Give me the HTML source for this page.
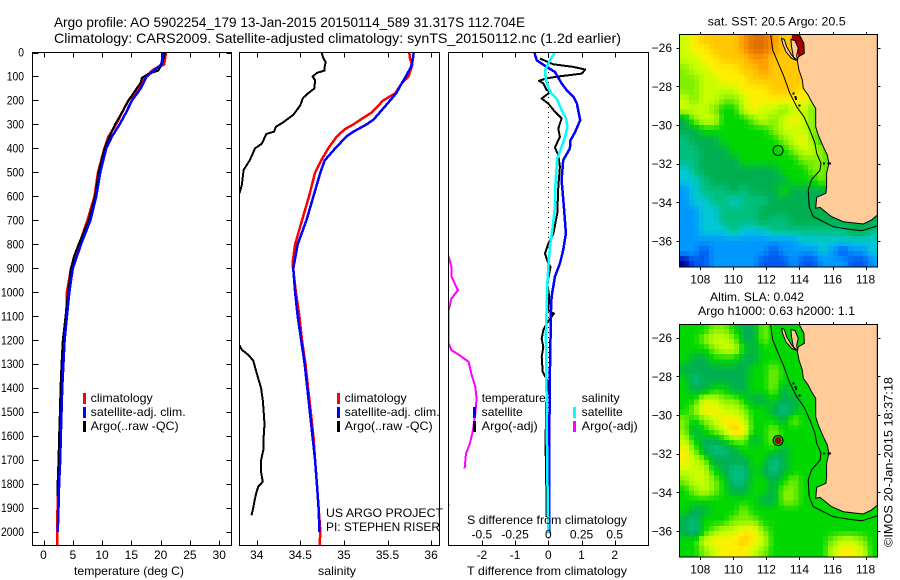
<!DOCTYPE html>
<html>
<head>
<meta charset="utf-8">
<title>Argo profile 5902254_179</title>
<style>
html,body{margin:0;padding:0;background:#fff;}
svg{display:block;font-family:"Liberation Sans",sans-serif;fill:#000;}
svg text{font-size:12px;}
.title{font-size:14px;}
</style>
</head>
<body>
<svg id="chart" xmlns="http://www.w3.org/2000/svg" width="900" height="580" viewBox="0 0 900 580">
<defs>
<clipPath id="clip-t"><rect x="32.5" y="52.5" width="199" height="493"/></clipPath>
<clipPath id="clip-s"><rect x="239.5" y="52.5" width="200" height="493"/></clipPath>
<clipPath id="clip-d"><rect x="448.5" y="52.5" width="200" height="493"/></clipPath>
<clipPath id="clip-m1"><rect x="679.5" y="34.5" width="198" height="232.5"/></clipPath>
<clipPath id="clip-m2"><rect x="679.5" y="324.5" width="198" height="232.5"/></clipPath>
</defs>
<text class="title" x="54" y="27" textLength="471" lengthAdjust="spacingAndGlyphs">Argo profile: AO 5902254_179 13-Jan-2015 20150114_589 31.317S 112.704E</text>
<text class="title" x="54" y="43" textLength="567" lengthAdjust="spacingAndGlyphs">Climatology: CARS2009. Satellite-adjusted climatology: synTS_20150112.nc (1.2d earlier)</text>
<g id="panel-t"></g>
<g id="panel-s"></g>
<g id="panel-d"></g>
<g id="map-1"></g>
<g id="map-2"></g>

<g>
<rect x="83" y="393" width="3" height="11" fill="#f00"/>
<text x="90.7" y="402" textLength="62" lengthAdjust="spacingAndGlyphs">climatology</text>
<rect x="83" y="407" width="3" height="11" fill="#00f"/>
<text x="90.7" y="416" textLength="95" lengthAdjust="spacingAndGlyphs">satellite-adj. clim.</text>
<rect x="83" y="421" width="3" height="11" fill="#000"/>
<text x="90.7" y="430" textLength="88" lengthAdjust="spacingAndGlyphs">Argo(..raw -QC)</text>
</g>
<g>
<rect x="337" y="393" width="3" height="11" fill="#f00"/>
<text x="344.7" y="402" textLength="62" lengthAdjust="spacingAndGlyphs">climatology</text>
<rect x="337" y="407" width="3" height="11" fill="#00f"/>
<text x="344.7" y="416" textLength="95" lengthAdjust="spacingAndGlyphs">satellite-adj. clim.</text>
<rect x="337" y="421" width="3" height="11" fill="#000"/>
<text x="344.7" y="430" textLength="88" lengthAdjust="spacingAndGlyphs">Argo(..raw -QC)</text>
</g>
<text x="326" y="517" textLength="117" lengthAdjust="spacingAndGlyphs">US ARGO PROJECT</text>
<text x="326" y="531" textLength="114" lengthAdjust="spacingAndGlyphs">PI: STEPHEN RISER</text>
<g>
<text x="481.7" y="402" textLength="64" lengthAdjust="spacingAndGlyphs">temperature</text>
<rect x="473" y="407" width="3" height="11" fill="#00f"/>
<text x="481.7" y="416" textLength="41" lengthAdjust="spacingAndGlyphs">satellite</text>
<rect x="473" y="421" width="3" height="11" fill="#000"/>
<text x="481.7" y="430" textLength="56" lengthAdjust="spacingAndGlyphs">Argo(-adj)</text>
<text x="581.7" y="402" textLength="38" lengthAdjust="spacingAndGlyphs">salinity</text>
<rect x="573" y="407" width="3" height="11" fill="#0ff"/>
<text x="581.7" y="416" textLength="41" lengthAdjust="spacingAndGlyphs">satellite</text>
<rect x="573" y="421" width="3" height="11" fill="#f0f"/>
<text x="581.7" y="430" textLength="56" lengthAdjust="spacingAndGlyphs">Argo(-adj)</text>
</g>
<text x="467" y="524" textLength="160" lengthAdjust="spacingAndGlyphs">S difference from climatology</text>
<text x="467" y="575" textLength="160" lengthAdjust="spacingAndGlyphs">T difference from climatology</text>
<text x="74" y="575" textLength="110" lengthAdjust="spacingAndGlyphs">temperature (deg C)</text>
<text x="318" y="575" textLength="38" lengthAdjust="spacingAndGlyphs">salinity</text>
<text x="707.7" y="25.5" textLength="138" lengthAdjust="spacingAndGlyphs">sat. SST: 20.5 Argo: 20.5</text>
<text x="710" y="301" textLength="94" lengthAdjust="spacingAndGlyphs">Altim. SLA: 0.042</text>
<text x="698" y="315" textLength="157" lengthAdjust="spacingAndGlyphs">Argo h1000: 0.63 h2000: 1.1</text>
<text transform="translate(892.5 547) rotate(-90)" textLength="170" lengthAdjust="spacingAndGlyphs">©IMOS 20-Jan-2015 18:37:18</text>
</svg>
<script>
// ---- profile tick labels ----
const depthTicks = [0,100,200,300,400,500,600,700,800,900,1000,1100,1200,1300,1400,1500,1600,1700,1800,1900,2000];
const tempTicks = [0,5,10,15,20,25,30];
const salTicks = [34,34.5,35,35.5,36];
const tDiffTicks = [-2,-1,0,1,2];
const sDiffTicks = [-0.5,-0.25,0,0.25,0.5];
const lonTicks = [108,110,112,114,116,118];
const latTicks = [-26,-28,-30,-32,-34,-36];

// ---- temperature profiles ----
const tempDepth = [0,50,70,100,150,200,250,300,350,400,500,600,700,800,900,1000,1100,1200,1300,1400,1500,1600,1700,1800,1900,1950,2000,2056];
const tempClim = [20.9,20.6,18.8,17.4,16.2,14.5,13.4,12.4,11.1,10.4,9.3,8.7,7.5,6.1,4.7,4.0,3.9,3.4,3.2,3.07,2.9,2.8,2.67,2.45,2.4,2.3,2.35,2.35];
const tempSat = [20.5,20.1,19.1,17.6,16.6,15.1,14.1,13.0,11.7,10.7,9.7,9.0,8.0,6.4,5.0,4.4,4.0,3.6,3.4,3.2,3.07,2.96,2.85,2.67,2.56,2.5,2.45];
const tempArgoDepth = [0,50,75,90,105,125,150,200,250,300,350,400,500,600,700,800,850,900,1000,1100,1200,1300,1400,1500,1600,1700,1800,1850];
const tempArgo = [20.8,20.2,19.6,17.9,16.8,16.6,15.9,14.5,13.4,12.2,11.3,10.4,9.4,8.8,7.7,6.0,5.2,4.7,4.2,3.76,3.3,3.07,2.9,2.8,2.67,2.56,2.4,2.4];

// ---- salinity profiles ----
const salClimDepth = [0,30,50,100,130,170,200,250,280,300,320,350,400,450,500,600,700,800,880,1000,1100,1200,1300,1400,1500,1600,1700,1800,1900,2000,2056];
const salClim = [35.75,35.76,35.785,35.74,35.66,35.59,35.45,35.32,35.19,35.11,35.01,34.92,34.82,34.74,34.67,34.6,34.52,34.44,34.41,34.45,34.49,34.52,34.56,34.59,34.62,34.65,34.67,34.69,34.71,34.73,34.72];
const salSatDepth = [0,30,60,100,130,170,200,250,280,300,330,350,400,450,500,600,700,800,900,1000,1100,1200,1300,1400,1500,1600,1700,1800,1900,2000];
const salSat = [35.8,35.79,35.77,35.71,35.66,35.6,35.53,35.41,35.34,35.26,35.11,35.03,34.9,34.78,34.73,34.65,34.57,34.47,34.42,34.44,34.47,34.51,34.55,34.58,34.61,34.64,34.67,34.69,34.71,34.72];
const salArgoDepth = [0,20,40,60,75,85,100,115,150,170,190,220,260,290,310,330,340,380,400,450,490,550,580,620,900,1200,1220,1240,1260,1285,1350,1400,1450,1500,1550,1600,1650,1700,1750,1790,1810,1830,1860,1900,1930];
const salArgo = [34.745,34.76,34.79,34.78,34.78,34.69,34.64,34.67,34.66,34.59,34.53,34.5,34.42,34.31,34.22,34.2,34.11,34.06,33.98,33.92,33.85,33.83,33.81,33.75,33.5,33.75,33.8,33.83,33.9,33.96,34.01,34.05,34.07,34.08,34.09,34.08,34.08,34.05,34.05,34.07,34.02,34.0,33.98,33.96,33.94];

// ---- differences from climatology (null = gap) ----
const tDiffSatDepth = [0,32,60,81,129,157,185,213,247,282,331,366,400,449,532,644,755,824,880,935,1019,1075,1172,1311,1589,2006];
const tDiffSat = [-0.42,-0.35,-0.05,0.2,0.4,0.55,0.76,0.86,0.91,0.96,0.81,0.67,0.65,0.45,0.4,0.47,0.53,0.45,0.35,0.2,0.1,0.08,0.07,0.05,0.03,0.03];
const tDiffArgoDepth = [25,49,60,71,88,101,108,118,129,157,164,192,213,247,275,317,352,396,428,477,560,671,755,796,838,880,894,963,1019,1075,1089,1130,1158,1193,1228,1269,1332,1367,1394,1464,1645,1881,1937];
const tDiffArgo = [-0.25,0.15,0.76,1.11,1.01,0.25,-0.05,-0.28,-0.15,-0.05,0.07,-0.2,0,0.2,0.4,0.3,0.35,0.2,0.3,0.35,0.3,0.27,0.15,0,-0.1,0,0.07,-0.03,0.03,0,0.17,-0.05,-0.15,-0.2,-0.15,-0.2,-0.17,-0.03,0,-0.07,-0.08,-0.05,-0.05];
const sDiffSatDepth = [0,32,74,115,164,192,240,275,310,352,393,442,532,644,727,810,894,977,1075,1172,1450,1728,2006];
const sDiffSat = [0.05,0.013,-0.025,-0.018,0.013,0.063,0.1,0.134,0.144,0.126,0.1,0.068,0.055,0.05,0.033,0.013,0,-0.008,-0.013,-0.018,-0.013,-0.008,0];
const sDiffArgoDepth = [800,852,894,935,991,1026,1075,1214,1241,1262,1290,1339,1394,1443,1506,1582,1631,1672,1735,1800,1881,1900];
const sDiffArgo = [-0.8,-0.75,-0.73,-0.73,-0.68,-0.73,-0.75,-0.75,-0.73,-0.67,-0.6,-0.58,-0.55,-0.54,-0.55,-0.57,-0.59,-0.62,-0.63,null,-0.75,-0.76];

// ---- map fields: colour level per 0.6 x 0.52 degree cell, north to south ----
const sstField = [
[8,9,10,10,10,10,11,12,12,11,10,10,10,10],
[8,9,9,10,10,10,11,12,12,11,10,10,10,10],
[8,8,9,9,10,10,10,11,11,10,10,10,10,10],
[7,8,8,9,9,9,10,10,11,10,10,10,10,10],
[7,7,8,8,9,9,9,10,10,10,10,10,10,10],
[7,7,8,8,8,8,9,9,9,10,10,10,9,9],
[8,7,8,8,7,7,8,9,9,9,9,9,9,8],
[8,8,8,7,6,6,8,9,8,8,7,8,8,7],
[5,7,8,8,6,6,6,7,8,7,8,9,8,7,7],
[5,5,6,6,6,6,6,6,6,7,8,8,8,7,7],
[4,5,5,5,6,6,6,6,6,6,7,8,9,7,6],
[4,4,5,5,5,6,6,6,6,6,6,7,8,8,7,6],
[4,4,5,5,5,5,6,6,6,6,6,6,7,7,7,6],
[3,4,5,5,5,5,5,5,5,5,6,6,6,7,7,6],
[3,3,4,5,5,5,5,5,5,5,5,6,6,6,7,6],
[2,3,4,4,4,5,4,5,5,5,6,5,5,5,5,5],
[2,3,3,4,4,3,4,4,4,5,5,5,5,5,5,5],
[2,2,3,3,4,4,4,4,5,5,5,5,5,5,5,5],
[2,2,3,3,4,4,4,4,5,4,4,5,5,5,5,5,5,5,5,5],
[2,2,3,3,3,4,3,3,3,4,4,4,4,4,4,4,4,5,5,4],
[2,2,2,2,2,2,2,2,2,2,2,2,3,3,3,3,3,3,3,3],
[2,2,1,2,2,2,2,2,2,1,2,2,2,2,3,2,1,2,2,3],
[0,1,1,2,2,2,2,2,1,1,1,2,1,1,2,2,2,1,1,2],
[0,1,1,2,2,2,2,2,1,1,1,2,1,1,2,2,2,1,1,2]
];
const slaField = [
[6,6,6,7,7,6,5,5,7,6,6,6,6,6],
[6,6,7,8,8,7,5,5,7,6,6,6,6,6],
[6,6,6,7,8,8,6,5,6,6,6,6,6,6],
[6,5,5,6,6,6,5,5,6,6,6,6,6,6],
[5,5,5,5,5,5,5,6,6,7,6,6,6,6],
[6,4,5,5,5,5,5,6,6,7,6,6,6,6],
[6,5,5,6,6,5,5,6,6,7,5,6,6,6],
[6,6,8,8,7,7,6,5,5,6,5,5,6,6],
[6,7,9,9,8,8,7,6,6,5,4,5,6,6,6],
[7,6,7,8,9,9,8,6,6,6,5,7,6,6,6],
[7,5,6,7,8,10,9,6,6,7,6,6,6,6,6],
[8,6,5,5,6,7,7,5,6,7,6,6,6,6,6,6],
[9,7,5,4,4,5,6,6,6,6,5,6,6,6,6,6],
[9,8,7,5,5,5,5,6,6,4,5,6,6,6,6,6],
[8,8,8,6,5,4,4,6,5,4,5,6,6,6,6,6],
[7,8,8,7,6,4,4,6,6,5,6,7,6,6,6,6],
[6,7,8,7,6,5,5,6,6,5,7,7,6,6,6,6],
[6,6,6,6,6,6,6,6,5,5,7,7,6,6,6,6],
[6,5,5,6,6,6,7,6,6,6,6,6,6,6,6,6,6,6,6,6],
[5,4,6,6,6,7,7,7,6,6,6,6,6,6,6,6,6,6,6,6],
[5,4,6,7,8,8,9,9,7,6,6,6,6,6,6,6,6,6,6,6],
[6,6,8,9,9,9,10,9,8,6,6,6,6,6,6,7,8,8,7,6],
[6,6,7,8,9,9,9,8,7,6,6,6,6,6,6,8,9,9,8,6],
[6,6,7,8,9,9,9,8,7,6,6,6,6,6,6,8,9,9,8,6]
];
const levelColors = ['#0000a0','#0058f0','#0098ff','#00c8d8','#00c080','#00b050','#00d800','#80f000','#c8ff00','#ffee00','#ffc800','#ff9800','#e07000','#a00000'];
const fieldWest = 106.73;
const fieldNorth = -25.29;
const fieldLonStep = 0.6;
const fieldLatStep = 0.522;

// ---- geography (lon, lat) ----
const landLon = [113.97,114.27,114.29,113.93,113.87,113.97,114.17,114.23,114.53,114.73,114.98,114.98,114.98,115.14,115.44,115.68,115.78,115.64,115.64,115.6,115.04,114.98,115.24,115.94,116.65,117.86,118.36,118.71,118.71];
const landLat = [-25.29,-25.78,-26.29,-26.47,-26.67,-27.16,-27.67,-28.1,-28.45,-28.79,-29.14,-29.66,-30.09,-30.52,-31.12,-31.55,-31.98,-32.5,-33.19,-33.53,-33.74,-34.31,-34.26,-34.74,-35,-35.12,-34.91,-34.66,-25.29];
const shelfLon = [112.25,112.38,112.72,113.02,113.42,113.83,114.27,114.63,114.94,115.04,115.3,115.24,114.73,114.53,114.59,114.83,116.04,117.05,117.76,118.71];
const shelfLat = [-25.29,-26.12,-26.81,-27.41,-28.36,-29.05,-29.57,-30.26,-30.95,-31.47,-31.98,-32.33,-32.84,-33.36,-34.22,-34.74,-35.26,-35.4,-35.47,-35.22];
const isleALon = [112.92,113.08,113.22,113.52,113.79,113.52,113.18,112.98];
const isleALat = [-25.52,-25.57,-25.95,-26.38,-26.64,-26.55,-26.21,-25.78];
const isleBLon = [113.48,113.73,113.93,113.83,113.87,113.63,113.52];
const isleBLat = [-25.57,-25.64,-26.03,-26.38,-26.67,-26.47,-25.95];
const warmBayLon = [113.56,113.97,114.27,114.29,113.93,113.83,113.52];
const warmBayLat = [-25.29,-25.29,-25.78,-26.38,-26.47,-25.95,-25.6];
const reefLon = [113.65,113.75,113.78,114.0,115.48,115.75,115.85];
const reefLat = [-28.38,-28.55,-28.65,-29.0,-32.0,-31.98,-31.98];
const floatLon = 112.704;
const floatLat = -31.317;

// ---- axis functions ----
const svgNS = 'http://www.w3.org/2000/svg';
const depthY = d => 52.5 + d * 0.2398;
const tempX = v => 43.5 + v * 5.857;
const salX = v => 256.7 + (v - 34) * 87.2;
const tDiffX = v => 548.3 + v * 33.2;
const sDiffX = v => 548.3 + v * 132.8;
const lonX = v => 700.3 + (v - 108) * 16.53;
const latY = (v, top) => top + 13.7 + (-26 - v) * 19.33;

function mk(tag, parent) {
  const el = document.createElementNS(svgNS, tag);
  parent.appendChild(el);
  return el;
}
function label(parent, name, str, x, y, anchor, size, len) {
  const t = mk('text', parent);
  
  
  t.setAttribute('x', x);
  t.setAttribute('y', y);
  t.setAttribute('text-anchor', anchor);
  t.style.fontSize = size + 'px';
  if (len) {
    t.setAttribute('textLength', len);
    t.setAttribute('lengthAdjust', 'spacingAndGlyphs');
  }
  t.textContent = str;
  return t;
}
function segment(parent, name, x1, y1, x2, y2, w) {
  const l = mk('line', parent);
  
  
  l.setAttribute('x1', x1);
  l.setAttribute('y1', y1);
  l.setAttribute('x2', x2);
  l.setAttribute('y2', y2);
  l.setAttribute('stroke', '#000');
  l.setAttribute('stroke-width', w || 1);
  l.setAttribute('shape-rendering', 'crispEdges');
  return l;
}
function frame(parent, name, x, y, w, h) {
  const r = mk('rect', parent);
  
  
  r.setAttribute('x', x);
  r.setAttribute('y', y);
  r.setAttribute('width', w);
  r.setAttribute('height', h);
  r.setAttribute('fill', 'none');
  r.setAttribute('stroke', '#000');
  r.setAttribute('stroke-width', 1);
  r.setAttribute('shape-rendering', 'crispEdges');
}
function profile(parent, name, depths, values, xFn, color, width, clip) {
  let d = '';
  let pen = false;
  values.forEach((v, i) => {
    if (v === null) { pen = false; return; }
    d += (pen ? 'L' : 'M') + xFn(v).toFixed(1) + ' ' + depthY(depths[i]).toFixed(1);
    pen = true;
  });
  const p = mk('path', parent);
  
  
  p.setAttribute('d', d);
  p.setAttribute('fill', 'none');
  p.setAttribute('stroke', color);
  p.setAttribute('stroke-width', width);
  p.setAttribute('stroke-linejoin', 'round');
  p.setAttribute('shape-rendering', 'crispEdges');
  p.setAttribute('clip-path', 'url(#' + clip + ')');
}
function xTicks(parent, name, ticks, xFn) {
  ticks.forEach(t => {
    const x = Math.round(xFn(t)) + 0.5;
    segment(parent, name + '-tick-top', x, 52.5, x, 57.5);
    segment(parent, name + '-tick-bottom', x, 540.5, x, 545.5);
  });
}

// ---- temperature panel ----
const pT = document.getElementById('panel-t');
profile(pT, 'temperature-climatology-line', tempDepth, tempClim, tempX, '#f00', 2.5, 'clip-t');
profile(pT, 'temperature-argo-line', tempArgoDepth, tempArgo, tempX, '#000', 2, 'clip-t');
profile(pT, 'temperature-satellite-line', tempDepth.slice(0, tempSat.length), tempSat, tempX, '#00f', 2.5, 'clip-t');
frame(pT, 'temperature-axes-frame', 32.5, 52.5, 199, 493);
xTicks(pT, 'temperature', tempTicks, tempX);
tempTicks.forEach(t => {
  label(pT, 'temperature-tick-label', String(t), tempX(t), 559, 'middle', 12);
});
depthTicks.forEach(d => {
  const y = Math.round(depthY(d)) + 0.5;
  segment(pT, 'depth-tick-left', 32.5, y, 38.5, y);
  segment(pT, 'depth-tick-right', 226.5, y, 231.5, y);
  const s = String(d);
  label(pT, 'depth-tick-label', s, 24, depthY(d) + 4, 'end', 12, s.length * 5.75);
});

// ---- salinity panel ----
const pS = document.getElementById('panel-s');
profile(pS, 'salinity-climatology-line', salClimDepth, salClim, salX, '#f00', 2.5, 'clip-s');
profile(pS, 'salinity-argo-line', salArgoDepth, salArgo, salX, '#000', 2, 'clip-s');
profile(pS, 'salinity-satellite-line', salSatDepth, salSat, salX, '#00f', 2.5, 'clip-s');
frame(pS, 'salinity-axes-frame', 239.5, 52.5, 200, 493);
xTicks(pS, 'salinity', salTicks, salX);
salTicks.forEach(t => {
  label(pS, 'salinity-tick-label', String(t), salX(t), 559, 'middle', 12);
});

// ---- difference panel ----
const pD = document.getElementById('panel-d');
const zero = mk('line', pD);


zero.setAttribute('x1', tDiffX(0));
zero.setAttribute('x2', tDiffX(0));
zero.setAttribute('y1', 52);
zero.setAttribute('y2', 545);
zero.setAttribute('stroke', '#000');
zero.setAttribute('stroke-width', 1);
zero.setAttribute('stroke-dasharray', '1 4');
zero.setAttribute('shape-rendering', 'crispEdges');
profile(pD, 'salinity-difference-argo-line', sDiffArgoDepth, sDiffArgo, sDiffX, '#f0f', 2, 'clip-d');
profile(pD, 'temperature-difference-argo-line', tDiffArgoDepth, tDiffArgo, tDiffX, '#000', 2, 'clip-d');
profile(pD, 'temperature-difference-satellite-line', tDiffSatDepth, tDiffSat, tDiffX, '#00f', 2.5, 'clip-d');
profile(pD, 'salinity-difference-satellite-line', sDiffSatDepth, sDiffSat, sDiffX, '#0ff', 2.5, 'clip-d');
frame(pD, 'difference-axes-frame', 448.5, 52.5, 200, 493);
xTicks(pD, 'difference', tDiffTicks, tDiffX);
tDiffTicks.forEach(t => {
  label(pD, 't-difference-tick-label', String(t), tDiffX(t), 559, 'middle', 12);
});
sDiffTicks.forEach(t => {
  label(pD, 's-difference-tick-label', String(t), sDiffX(t), 538.5, 'middle', 12);
});

// ---- maps ----
function polygonPoints(lons, lats, top) {
  return lons.map((v, i) => lonX(v).toFixed(1) + ',' + latY(lats[i], top).toFixed(1)).join(' ');
}
function levelColor(level) {
  const lo = Math.max(0, Math.min(levelColors.length - 2, Math.floor(level)));
  const f = level - lo;
  const a = levelColors[lo];
  const b = levelColors[lo + 1];
  const ch = k => {
    const p = parseInt(a.substr(k, 2), 16);
    const q = parseInt(b.substr(k, 2), 16);
    return Math.round(p + (q - p) * f);
  };
  return 'rgb(' + ch(1) + ',' + ch(3) + ',' + ch(5) + ')';
}
function fieldAt(field, u, v) {
  const at = (j, i) => {
    const row = field[Math.max(0, Math.min(field.length - 1, j))];
    return row[Math.max(0, Math.min(row.length - 1, i))];
  };
  const j = Math.floor(v);
  const i = Math.floor(u);
  const fv = v - j;
  const fu = u - i;
  return (at(j, i) * (1 - fu) + at(j, i + 1) * fu) * (1 - fv) + (at(j + 1, i) * (1 - fu) + at(j + 1, i + 1) * fu) * fv;
}
function drawMap(id, field, top, clip, prefix) {
  const g = document.getElementById(id);
  const clipGroup = mk('g', g);
  
  
  clipGroup.setAttribute('clip-path', 'url(#' + clip + ')');
  const base = mk('rect', clipGroup);
  
  
  base.setAttribute('x', 679);
  base.setAttribute('y', top);
  base.setAttribute('width', 199);
  base.setAttribute('height', 233);
  base.setAttribute('fill', '#ffcc99');
  const sub = 2;
  for (let j = 0; j < field.length * sub; j++) {
    for (let i = 0; i < 20 * sub; i++) {
      const x0 = lonX(fieldWest + i / sub * fieldLonStep);
      const x1 = lonX(fieldWest + (i + 1) / sub * fieldLonStep);
      const y0 = latY(fieldNorth - j / sub * fieldLatStep, top);
      const y1 = latY(fieldNorth - (j + 1) / sub * fieldLatStep, top);
      const lev = fieldAt(field, (i + 0.5) / sub - 0.5, (j + 0.5) / sub - 0.5);
      const c = mk('rect', clipGroup);
      
      
      c.setAttribute('x', x0.toFixed(1));
      c.setAttribute('y', y0.toFixed(1));
      c.setAttribute('width', (x1 - x0 + 0.6).toFixed(1));
      c.setAttribute('height', (y1 - y0 + 0.6).toFixed(1));
      c.setAttribute('fill', levelColor(lev));
      c.setAttribute('shape-rendering', 'crispEdges');
    }
  }
  if (prefix === 'sst') {
    const bay = mk('polygon', clipGroup);
    
    
    bay.setAttribute('points', polygonPoints(warmBayLon, warmBayLat, top));
    bay.setAttribute('fill', levelColors[13]);
  }
  const land = mk('polygon', clipGroup);
  
  
  land.setAttribute('points', polygonPoints(landLon, landLat, top));
  land.setAttribute('fill', '#ffcc99');
  land.setAttribute('stroke', '#000');
  land.setAttribute('stroke-width', 1);
  [[isleALon, isleALat], [isleBLon, isleBLat]].forEach(pair => {
    const isle = mk('polygon', clipGroup);
    
    
    isle.setAttribute('points', polygonPoints(pair[0], pair[1], top));
    isle.setAttribute('fill', '#ffcc99');
    isle.setAttribute('stroke', '#000');
    isle.setAttribute('stroke-width', 1);
  });
  const shelf = mk('polyline', clipGroup);
  
  
  shelf.setAttribute('points', polygonPoints(shelfLon, shelfLat, top));
  shelf.setAttribute('fill', 'none');
  shelf.setAttribute('stroke', '#000');
  shelf.setAttribute('stroke-width', 1);
  reefLon.forEach((v, i) => {
    const r = mk('rect', clipGroup);
    
    
    r.setAttribute('x', (lonX(v) - 1).toFixed(1));
    r.setAttribute('y', (latY(reefLat[i], top) - 1).toFixed(1));
    r.setAttribute('width', 2);
    r.setAttribute('height', 2);
    r.setAttribute('shape-rendering', 'crispEdges');
  });
  const fx = lonX(floatLon);
  const fy = latY(floatLat, top);
  if (prefix === 'sla') {
    const halo = mk('circle', clipGroup);
    
    
    halo.setAttribute('cx', fx);
    halo.setAttribute('cy', fy);
    halo.setAttribute('r', 5);
    halo.setAttribute('fill', '#00d800');
    halo.setAttribute('stroke', '#000');
    const dot = mk('circle', clipGroup);
    
    
    dot.setAttribute('cx', fx);
    dot.setAttribute('cy', fy);
    dot.setAttribute('r', 3.5);
    dot.setAttribute('fill', '#a00000');
  } else {
    const ring = mk('circle', clipGroup);
    
    
    ring.setAttribute('cx', fx);
    ring.setAttribute('cy', fy);
    ring.setAttribute('r', 5);
    ring.setAttribute('fill', 'none');
    ring.setAttribute('stroke', '#000');
  }
  frame(g, prefix + '-map-frame', 679.5, top + 0.5, 198, 232.5);
  lonTicks.forEach(v => {
    const x = Math.round(lonX(v)) + 0.5;
    segment(g, prefix + '-lon-tick-top', x, top - 2, x, top + 0.5);
    segment(g, prefix + '-lon-tick-bottom', x, top + 233, x, top + 236);
    label(g, prefix + '-lon-tick-label', String(v), lonX(v), top + 249.5, 'middle', 12);
  });
  latTicks.forEach(v => {
    const y = Math.round(latY(v, top)) + 0.5;
    segment(g, prefix + '-lat-tick-left', 676.5, y, 679.5, y);
    segment(g, prefix + '-lat-tick-right', 877.5, y, 880.5, y);
    label(g, prefix + '-lat-tick-label', '\u2212' + Math.abs(v), 672, latY(v, top) + 4.5, 'end', 12);
  });
}
drawMap('map-1', sstField, 34, 'clip-m1', 'sst');
drawMap('map-2', slaField, 324, 'clip-m2', 'sla');
</script>
</body>
</html>
